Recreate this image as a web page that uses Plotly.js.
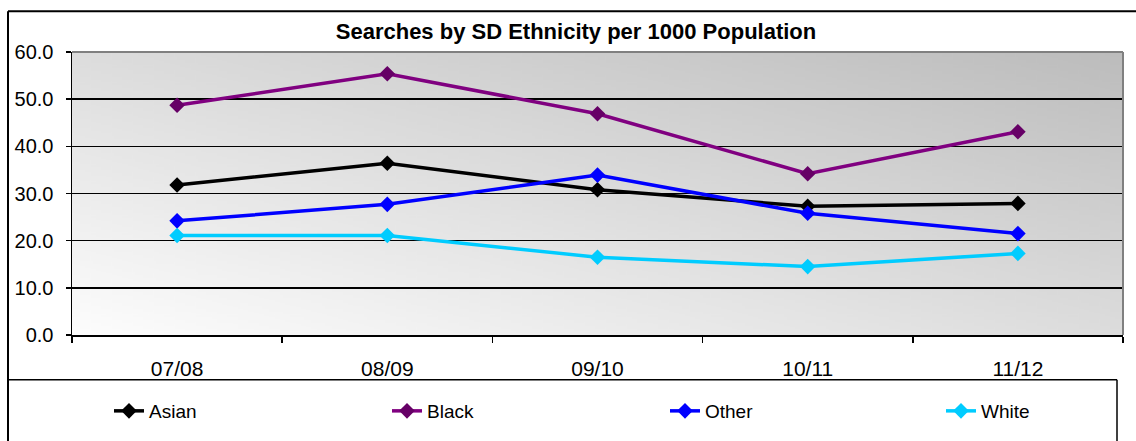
<!DOCTYPE html>
<html>
<head>
<meta charset="utf-8">
<script src="https://cdn.plot.ly/plotly-3.0.1.min.js"></script>
<style>html,body{margin:0;padding:0;background:#fff;}#chart{width:1136px;height:441px;}</style>
</head>
<body>
<div id="chart"></div>
<script>
const categories = ["07/08", "08/09", "09/10", "10/11", "11/12"];
const asian = [31.8, 36.4, 30.8, 27.3, 27.9];
const black = [48.7, 55.4, 46.9, 34.2, 43.1];
const other = [24.2, 27.7, 33.9, 25.8, 21.5];
const white = [21.1, 21.1, 16.5, 14.5, 17.3];
const seriesNames = ["Asian", "Black", "Other", "White"];

// gradient background image
const cv = document.createElement('canvas');
cv.width = 200; cv.height = 200;
const ctx = cv.getContext('2d');
const g = ctx.createLinearGradient(0, 200, 200, 0);
g.addColorStop(0, '#fdfdfd');
g.addColorStop(1, '#bcbcbc');
ctx.fillStyle = g;
ctx.fillRect(0, 0, 200, 200);
const bgURL = cv.toDataURL('image/png');

// pixel -> paper helpers (plot area: x 72..1123, y 52..336)
const L = 72, R = 1123, T = 52, B = 336;
const px = x => (x - L) / (R - L);
const py = y => (B - y) / (B - T);

function tr(name, y, lineColor, markerColor, legendId) {
  return {
    type: 'scatter', mode: 'lines+markers', name: name,
    x: categories, y: y, legend: legendId,
    line: {color: lineColor, width: 3.5},
    marker: {symbol: 'diamond', size: 12, color: markerColor, line: {width: 0}}
  };
}

const data = [
  tr(seriesNames[0], asian, '#000000', '#000000', 'legend'),
  tr(seriesNames[1], black, '#800080', '#660066', 'legend2'),
  tr(seriesNames[2], other, '#0000ff', '#0000ff', 'legend3'),
  tr(seriesNames[3], white, '#00ccff', '#00ccff', 'legend4')
];

const font = 'Liberation Sans, Arial, sans-serif';
function leg(xpix) {
  return {
    orientation: 'h', x: px(xpix), xanchor: 'left', y: py(411), yanchor: 'middle',
    font: {size: 19, family: font, color: '#000'}, bgcolor: 'rgba(0,0,0,0)', borderwidth: 0,
    itemwidth: 30, itemclick: false, itemdoubleclick: false
  };
}

const layout = {
  width: 1136, height: 441,
  margin: {l: L, r: 1136 - R, t: T, b: 441 - B, pad: 0},
  paper_bgcolor: '#ffffff',
  plot_bgcolor: 'rgba(0,0,0,0)',
  font: {family: font, color: '#000000', size: 18},
  showlegend: true,
  title: {
    text: 'Searches by SD Ethnicity per 1000 Population',
    font: {family: font, size: 22, weight: 'bold', color: '#000'},
    x: px(576), xref: 'paper', xanchor: 'center',
    y: 1 - 31 / 441, yanchor: 'middle'
  },
  xaxis: {
    type: 'category', range: [-0.5, 4.5],
    tickson: 'boundaries', ticks: 'outside', ticklen: 6, tickcolor: '#000', tickwidth: 1.5,
    showline: true, linecolor: '#000', linewidth: 1.5,
    showgrid: false, zeroline: false,
    tickfont: {size: 21, family: font},
    ticklabelstandoff: 14,
    fixedrange: true
  },
  yaxis: {
    range: [0, 60], dtick: 10, tick0: 0, tickformat: '.1f',
    ticks: 'outside', ticklen: 5, tickcolor: '#000', tickwidth: 1.5,
    showline: true, linecolor: '#000', linewidth: 1.5,
    showgrid: true, gridcolor: '#000', gridwidth: 1.5,
    zeroline: false,
    tickfont: {size: 20, family: font},
    ticklabelstandoff: 8,
    fixedrange: true
  },
  legend: leg(109),
  legend2: leg(387),
  legend3: leg(665),
  legend4: leg(941),
  images: [{
    source: bgURL, xref: 'paper', yref: 'paper', x: 0, y: 1, sizex: 1, sizey: 1,
    xanchor: 'left', yanchor: 'top', sizing: 'stretch', layer: 'below'
  }],
  shapes: [
    // plot area border top/right (gray)
    {type: 'line', xref: 'paper', yref: 'paper', x0: 0, x1: 1, y0: 1, y1: 1, line: {color: '#808080', width: 2}},
    {type: 'line', xref: 'paper', yref: 'paper', x0: 1, x1: 1, y0: 0, y1: 1, line: {color: '#808080', width: 2}},
    // outer chart frame
    {type: 'line', xref: 'paper', yref: 'paper', x0: px(8), x1: px(1140), y0: py(11), y1: py(11), line: {color: '#000', width: 2}},
    {type: 'line', xref: 'paper', yref: 'paper', x0: px(8), x1: px(8), y0: py(11), y1: py(445), line: {color: '#000', width: 2}},
    // legend box
    {type: 'line', xref: 'paper', yref: 'paper', x0: px(8), x1: px(1117), y0: py(381), y1: py(381), line: {color: '#000', width: 1.5}},
    {type: 'line', xref: 'paper', yref: 'paper', x0: px(1117), x1: px(1117), y0: py(381), y1: py(445), line: {color: '#000', width: 1.5}}
  ]
};

Plotly.newPlot('chart', data, layout, {displayModeBar: false, staticPlot: true});
</script>
</body>
</html>
